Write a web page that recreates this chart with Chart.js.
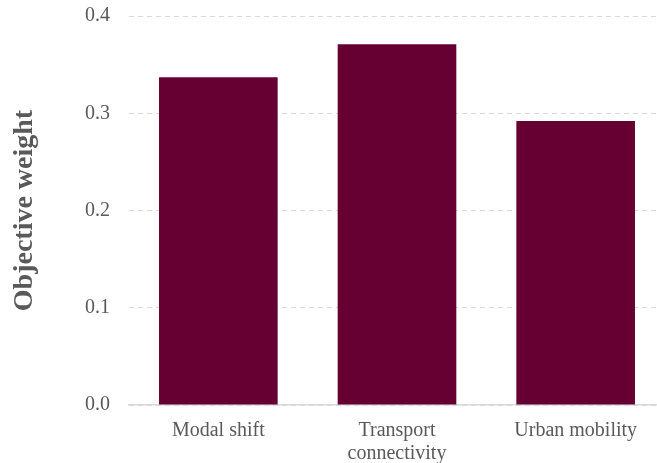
<!DOCTYPE html>
<html>
<head>
<meta charset="utf-8">
<script src="https://cdn.jsdelivr.net/npm/chart.js@4.4.1/dist/chart.umd.min.js"></script>
<style>
  html, body { margin: 0; padding: 0; background: #fff; overflow: hidden; }
  #wrap { position: relative; width: 665px; height: 463px; overflow: hidden; }
  #c { position: absolute; left: 0; top: -15px; }
</style>
</head>
<body>
<div id="wrap"><canvas id="c" width="665" height="478"></canvas></div>
<script>
const categories = ['Modal shift', ['Transport', 'connectivity'], 'Urban mobility'];
const weights = [0.337, 0.371, 0.292];
const yTicks = [0.0, 0.1, 0.2, 0.3, 0.4];

const grey = '#595959';
const serif = '"Liberation Serif", "Times New Roman", serif';

new Chart(document.getElementById('c'), {
  type: 'bar',
  data: {
    labels: categories,
    datasets: [{
      data: weights,
      backgroundColor: '#660033',
      borderWidth: 0,
      barPercentage: 0.664,
      categoryPercentage: 1.0
    }]
  },
  options: {
    responsive: false,
    animation: false,
    layout: { padding: { top: 0, right: 0, left: 8, bottom: 0 } },
    plugins: { legend: { display: false }, tooltip: { enabled: false } },
    scales: {
      x: {
        afterFit: (axis) => { axis.height = 58; },
        grid: { display: false, drawTicks: false },
        border: { display: true, color: '#d9d9d9', width: 1.5 },
        ticks: {
          color: grey,
          font: { family: serif, size: 20, lineHeight: 1.12 },
          padding: 15,
          maxRotation: 0,
          autoSkip: false
        }
      },
      y: {
        min: 0,
        max: 0.4,
        afterBuildTicks: (axis) => { axis.ticks = yTicks.map(v => ({ value: v })); },
        afterFit: (axis) => { axis.width = 121; },
        grid: {
          color: '#d9d9d9',
          lineWidth: 1,
          drawTicks: false
        },
        border: { display: false, dash: [5, 4] },
        ticks: {
          color: grey,
          font: { family: serif, size: 20 },
          padding: 19,
          callback: (v) => Number(v).toFixed(1)
        },
        title: {
          display: true,
          text: 'Objective weight',
          color: grey,
          font: { family: serif, size: 28, weight: 'bold' },
          padding: { top: 0, bottom: 0 }
        }
      }
    }
  }
});
</script>
</body>
</html>
